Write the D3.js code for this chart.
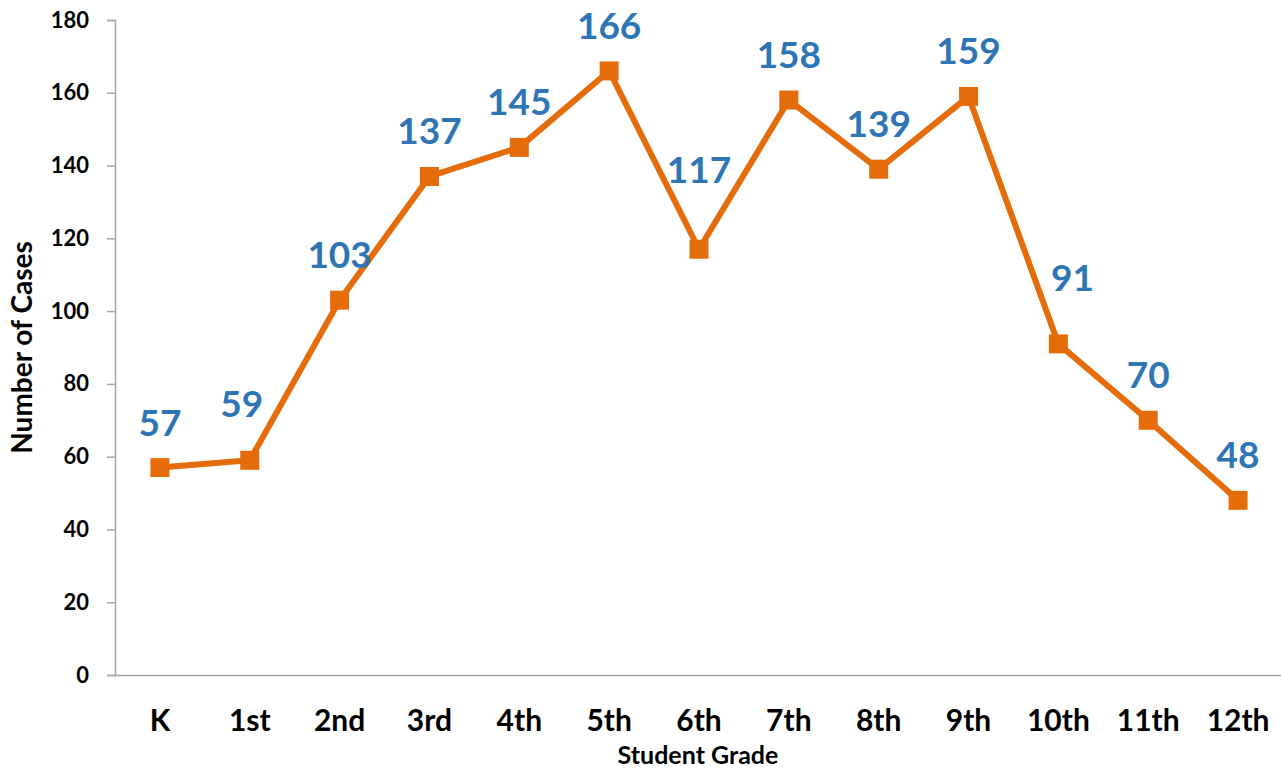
<!DOCTYPE html>
<html>
<head>
<meta charset="utf-8">
<script src="https://cdn.jsdelivr.net/npm/d3@7"></script>
<style>
  body { margin: 0; background: #fff; }
  text { font-family: Lato, "Open Sans", sans-serif; font-weight: bold; }
</style>
</head>
<body>
<div id="chart"></div>
<script>
// Chart data
const grades = ['K', '1st', '2nd', '3rd', '4th', '5th', '6th', '7th', '8th', '9th', '10th', '11th', '12th'];
const cases = [57, 59, 103, 137, 145, 166, 117, 158, 139, 159, 91, 70, 48];
const yTicks = [0, 20, 40, 60, 80, 100, 120, 140, 160, 180];

// Manual label nudges (px) for labels moved off the line
const labelNudge = { '1st': [-8, -11], '6th': [0, -34], '10th': [14, -21] };

const width = 1281;
const height = 769;
const margin = { top: 20, right: -2, bottom: 94, left: 115 };

const svg = d3.select('#chart')
    .append('svg')
    .attr('width', width)
    .attr('height', height);

const x = d3.scaleBand()
    .domain(grades)
    .range([margin.left, width - margin.right]);

const y = d3.scaleLinear()
    .domain([0, 180])
    .range([height - margin.bottom, margin.top]);

// Y axis
const yAxis = svg.append('g')
    .attr('transform', `translate(${margin.left},0)`)
    .call(d3.axisLeft(y).tickValues(yTicks).tickSize(8).tickPadding(18));
yAxis.select('.domain').attr('stroke', '#a6a6a6').attr('stroke-width', 1.5);
yAxis.selectAll('.tick line').attr('stroke', '#a6a6a6').attr('stroke-width', 1.5);
yAxis.selectAll('.tick text')
    .attr('fill', '#000')
    .style('font-size', '22px');

// X axis
const xAxis = svg.append('g')
    .attr('transform', `translate(0,${y(0)})`)
    .call(d3.axisBottom(x).tickSize(0).tickPadding(35).tickSizeOuter(0));
xAxis.select('.domain').attr('stroke', '#a6a6a6').attr('stroke-width', 1.5);
xAxis.selectAll('.tick text')
    .attr('fill', '#000')
    .style('font-size', '30px');

// Axis titles
svg.append('text')
    .attr('transform', `translate(32,${(margin.top + y(0)) / 2}) rotate(-90)`)
    .attr('text-anchor', 'middle')
    .style('font-size', '28px')
    .text('Number of Cases');

svg.append('text')
    .attr('x', 698)
    .attr('y', 764)
    .attr('text-anchor', 'middle')
    .style('font-size', '25px')
    .text('Student Grade');

// Line
const cx = d => x(d) + x.bandwidth() / 2;
const line = d3.line()
    .x((d, i) => cx(grades[i]))
    .y(d => y(d));

svg.append('path')
    .datum(cases)
    .attr('fill', 'none')
    .attr('stroke', '#e46c0a')
    .attr('stroke-width', 6)
    .attr('stroke-linejoin', 'round')
    .attr('d', line);

// Square markers
const size = 19;
svg.selectAll('rect.marker')
    .data(cases)
    .enter()
    .append('rect')
    .attr('class', 'marker')
    .attr('x', (d, i) => cx(grades[i]) - size / 2)
    .attr('y', d => y(d) - size / 2)
    .attr('width', size)
    .attr('height', size)
    .attr('fill', '#e46c0a');

// Data labels
const nudge = (i, k) => (labelNudge[grades[i]] || [0, 0])[k];
svg.selectAll('text.label')
    .data(cases)
    .enter()
    .append('text')
    .attr('class', 'label')
    .attr('x', (d, i) => cx(grades[i]) + nudge(i, 0))
    .attr('y', (d, i) => y(d) - 32 + nudge(i, 1))
    .attr('text-anchor', 'middle')
    .attr('fill', '#2e75b6')
    .style('font-size', '37px')
    .text(d => d);
</script>
</body>
</html>
